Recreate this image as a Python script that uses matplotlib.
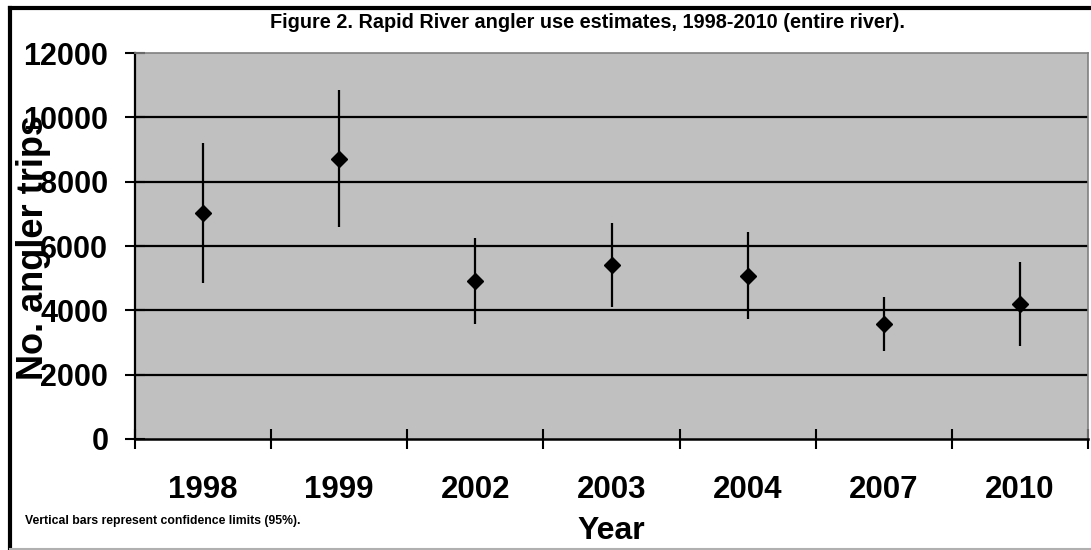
import matplotlib
matplotlib.use("Agg")
import matplotlib.pyplot as plt
from matplotlib.lines import Line2D

years = ["1998", "1999", "2002", "2003", "2004", "2007", "2010"]
estimate = [7020, 8700, 4910, 5410, 5080, 3580, 4200]
upper = [9210, 10850, 6260, 6710, 6430, 4430, 5510]
lower = [4840, 6580, 3560, 4110, 3720, 2750, 2890]
y_ticks = [0, 2000, 4000, 6000, 8000, 10000, 12000]

plt.rcParams['font.family'] = ['Liberation Sans', 'DejaVu Sans']
plt.rcParams['font.weight'] = 'bold'

W, H = 1091, 550
fig = plt.figure(figsize=(W / 100, H / 100), dpi=100)
ax = fig.add_axes([135 / W, 1 - 439 / H, (1088 - 135) / W, (439 - 53) / H])
ax.set_facecolor('#C0C0C0')

x = list(range(len(years)))
err_lo = [e - l for e, l in zip(estimate, lower)]
err_hi = [u - e for e, u in zip(estimate, upper)]
ax.errorbar(x, estimate, yerr=[err_lo, err_hi], fmt='D', color='black',
            ms=8, elinewidth=1.6, capsize=0, zorder=5)

ax.set_xlim(-0.5, len(years) - 0.5)
ax.set_ylim(0, 12000)
ax.set_yticks(y_ticks)
ax.set_yticklabels([str(v) for v in y_ticks], fontsize=22, fontweight='bold')
ax.set_xticks(x)
ax.set_xticklabels(years, fontsize=22.5, fontweight='bold')
ax.set_xticks([i - 0.5 for i in range(len(years) + 1)], minor=True)
ax.tick_params(axis='x', which='major', length=0, pad=26)
ax.tick_params(axis='x', which='minor', direction='inout', length=14.4, width=1.5)
ax.tick_params(axis='y', direction='inout', length=14.4, width=1.5, pad=12)

for v in y_ticks[1:-1]:
    ax.axhline(v, color='black', lw=1.6, zorder=1)

ax.spines['left'].set_linewidth(1.6)
ax.spines['bottom'].set_linewidth(1.8)
ax.spines['top'].set_color('#808080')
ax.spines['right'].set_color('#808080')
ax.spines['top'].set_linewidth(1.2)
ax.spines['right'].set_linewidth(1.2)

fig.text(588 / W, 1 - 22 / H,
         "Figure 2. Rapid River angler use estimates, 1998-2010 (entire river).",
         ha='center', va='center', fontsize=14.3, fontweight='bold')
fig.text(34 / W, 1 - 248 / H, "No. angler trips", rotation=90,
         ha='center', va='center', fontsize=26, fontweight='bold')
fig.text(611 / W, 1 - 531 / H, "Year", ha='center', va='center',
         fontsize=23, fontweight='bold')
fig.text(25 / W, 1 - 521 / H, "Vertical bars represent confidence limits (95%).",
         ha='left', va='center', fontsize=8.8, fontweight='bold')

# outer chart frame
fig.add_artist(Line2D([10 / W, 10 / W], [0, 1 - 8 / H], color='black', lw=3,
                      transform=fig.transFigure))
fig.add_artist(Line2D([10 / W, 1], [1 - 8 / H, 1 - 8 / H], color='black', lw=3,
                      transform=fig.transFigure))
fig.add_artist(Line2D([10 / W, 1], [1 - 549 / H, 1 - 549 / H], color='#B0B0B0',
                      lw=1.5, transform=fig.transFigure))

fig.savefig("out.png", dpi=100)
